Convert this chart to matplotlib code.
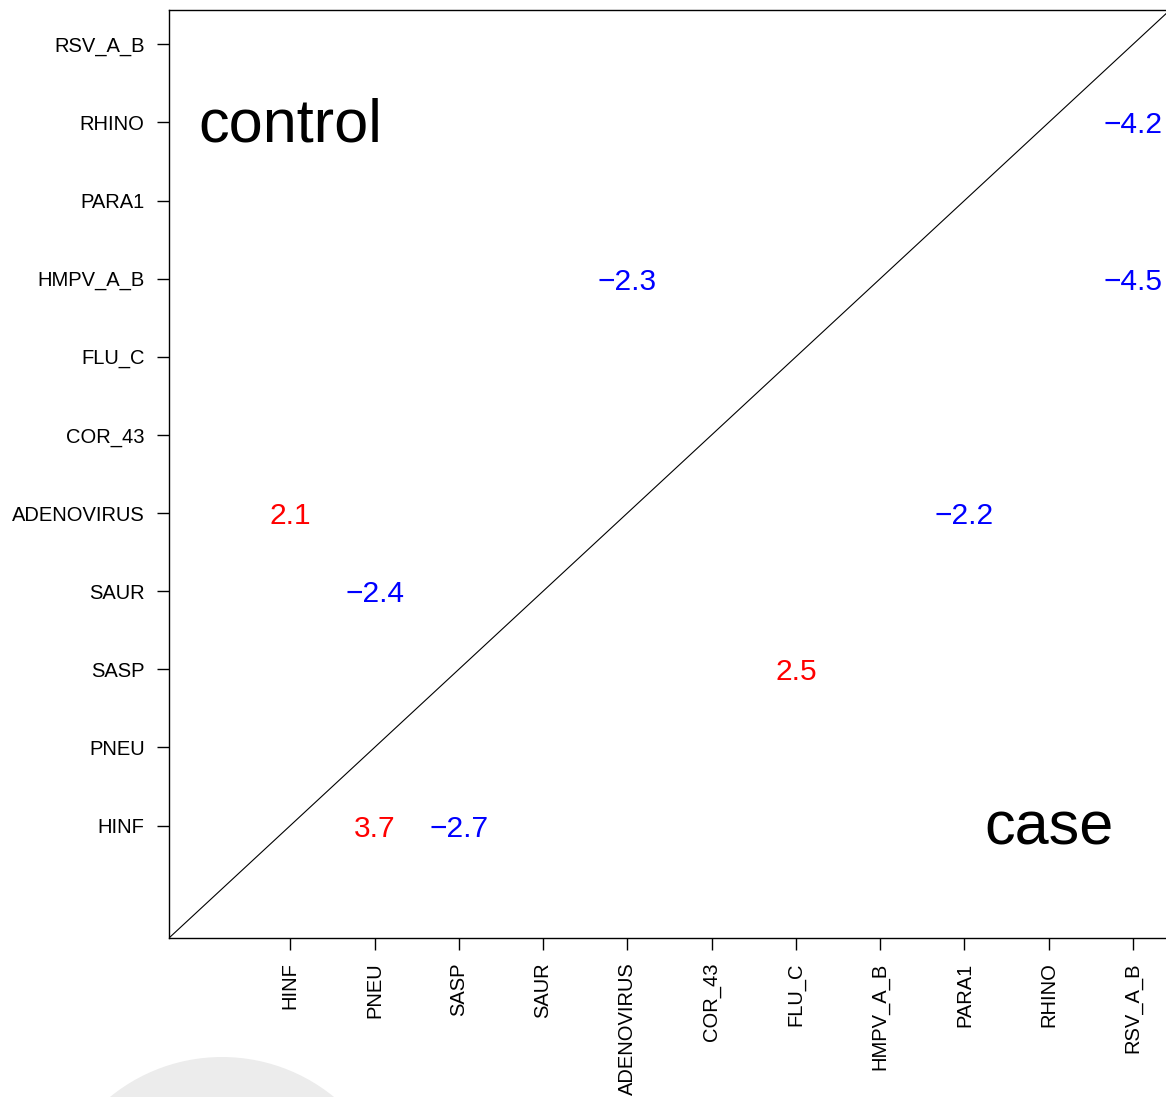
import matplotlib
matplotlib.use("Agg")
import matplotlib.pyplot as plt
from matplotlib.patches import Ellipse
from matplotlib.transforms import offset_copy

plt.rcParams['font.family'] = ['Liberation Sans', 'DejaVu Sans']

# Organisms on both axes (same order)
organisms = ["HINF", "PNEU", "SASP", "SAUR", "ADENOVIRUS", "COR_43",
             "FLU_C", "HMPV_A_B", "PARA1", "RHINO", "RSV_A_B"]

# Significant association scores: (x organism, y organism, value)
pair_x = ["RSV_A_B", "RSV_A_B", "ADENOVIRUS", "HINF", "PARA1",
          "PNEU", "FLU_C", "PNEU", "SASP"]
pair_y = ["RHINO", "HMPV_A_B", "HMPV_A_B", "ADENOVIRUS", "ADENOVIRUS",
          "SAUR", "SASP", "HINF", "HINF"]
pair_val = [-4.2, -4.5, -2.3, 2.1, -2.2, -2.4, 2.5, 3.7, -2.7]

W, H = 1166, 1097
fig = plt.figure(figsize=(W / 100, H / 100), dpi=100)

# faint grey blob near the bottom edge
fig.patches.append(Ellipse((222 / W, 1 - 1234 / H), 2 * 177 / W, 2 * 177 / H,
                           transform=fig.transFigure, facecolor="#ececec",
                           edgecolor="none", zorder=0))

ax = fig.add_axes([169 / W, (H - 938) / H, (1170 - 169) / W, (938 - 10) / H])
ax.set_facecolor("none")

pos = {name: i + 1 for i, name in enumerate(organisms)}
n = len(organisms)
pad = 0.04 * n
ax.set_xlim(-pad, n + pad)
ax.set_ylim(-pad, n + pad)

ax.axline((0, 0), (1, 1), color="black", lw=0.8)

for xs, ys, v in zip(pair_x, pair_y, pair_val):
    color = "red" if v > 0 else "blue"
    label = f"{v:.1f}".replace("-", "\u2212")
    ax.text(pos[xs], pos[ys], label, color=color, fontsize=21.5,
            ha="center", va="center_baseline")

big = offset_copy(ax.transData, fig=fig, x=0, y=3, units="dots")
ax.text(pos["HINF"], pos["RHINO"], "control", fontsize=44,
        ha="center", va="center_baseline", transform=big)
ax.text(pos["RHINO"], pos["HINF"], "case", fontsize=44,
        ha="center", va="center_baseline", transform=big)

ticks = [pos[o] for o in organisms]
ax.set_xticks(ticks)
ax.set_xticklabels(organisms, rotation=90, fontsize=14.5)
ax.set_yticks(ticks)
ax.set_yticklabels(organisms, fontsize=14.5)
ax.tick_params(length=8.6, width=1, pad=9, color="black")

for side in ["left", "top", "bottom", "right"]:
    ax.spines[side].set_color("black")
    ax.spines[side].set_linewidth(1)

fig.savefig("out.png", dpi=100)
